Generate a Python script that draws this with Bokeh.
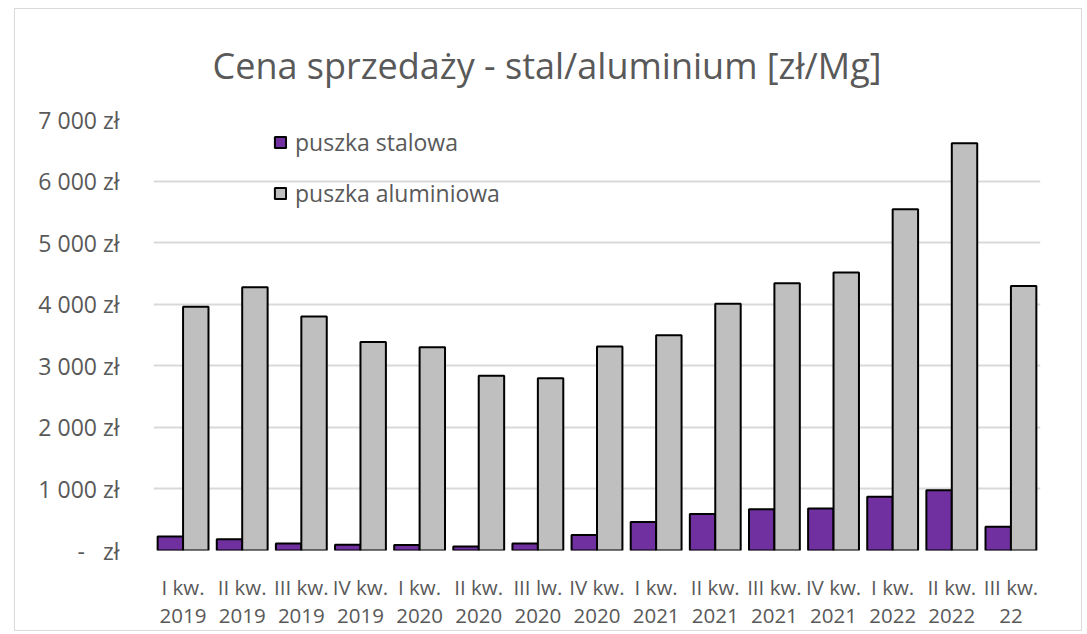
from bokeh.plotting import figure
from bokeh.models import ColumnDataSource, FixedTicker, Legend, LegendItem, FactorRange, Range1d
from bokeh.transform import dodge
from bokeh.embed import file_html
from bokeh.resources import INLINE

# ---- data ----
categories = ["I kw.\n2019", "II kw.\n2019", "III kw.\n2019", "IV kw.\n2019",
              "I kw.\n2020", "II kw.\n2020", "III lw.\n2020", "IV kw.\n2020",
              "I kw.\n2021", "II kw.\n2021", "III kw.\n2021", "IV kw.\n2021",
              "I kw.\n2022", "II kw.\n2022", "III kw.\n22"]
steel = [226, 184, 113, 92, 90, 65, 113, 251, 462, 592, 668, 684, 871, 979, 387]
aluminium = [3958, 4274, 3802, 3387, 3302, 2839, 2797, 3315, 3495, 4006, 4339,
             4516, 5544, 6613, 4297]
y_ticks = [0, 1000, 2000, 3000, 4000, 5000, 6000, 7000]
y_tick_labels = ["-\u00a0\u00a0\u00a0zł", "1 000 zł", "2 000 zł", "3 000 zł",
                 "4 000 zł", "5 000 zł", "6 000 zł", "7 000 zł"]
series_names = ["puszka stalowa", "puszka aluminiowa"]
title_text = "Cena sprzedaży - stal/aluminium [zł/Mg]"

FONT = "Open Sans"
TXT = "#595959"

src = ColumnDataSource(dict(cat=categories, steel=steel, alu=aluminium))

p = figure(
    x_range=FactorRange(factors=categories, range_padding=0),
    y_range=Range1d(0, 7000),
    width=1068, height=623,
    output_backend="svg", toolbar_location=None,
    min_border_left=138, min_border_right=43,
    min_border_top=107, min_border_bottom=82,
)
p.styles = {"border": "1px solid #d9d9d9", "margin-left": "14px", "margin-top": "8px"}
p.outline_line_color = None

p.title.text = title_text
p.title.align = "left"
p.title.offset = 59
p.title.standoff = 59
p.title.text_font = FONT
p.title.text_font_size = "36px"
p.title.text_font_style = "normal"
p.title.text_color = TXT

r1 = p.vbar(x=dodge("cat", -0.215, range=p.x_range), top="steel", width=0.43, source=src,
            fill_color="#7030A0", line_color="black", line_width=2)
r2 = p.vbar(x=dodge("cat", 0.215, range=p.x_range), top="alu", width=0.43, source=src,
            fill_color="#BFBFBF", line_color="black", line_width=2)

# axes
p.yaxis.ticker = FixedTicker(ticks=y_ticks)
p.yaxis.major_label_overrides = {t: l for t, l in zip(y_ticks, y_tick_labels)}
p.yaxis.axis_line_color = None
p.yaxis.major_tick_line_color = None
p.yaxis.minor_tick_line_color = None
p.yaxis.major_label_standoff = 28
p.yaxis.major_label_text_font = FONT
p.yaxis.major_label_text_font_size = "23px"
p.yaxis.major_label_text_color = TXT

p.xaxis.axis_line_color = None
p.xaxis.major_tick_line_color = None
p.xaxis.minor_tick_line_color = None
p.xaxis.major_label_standoff = 16
p.xaxis.major_label_text_font = FONT
p.xaxis.major_label_text_font_size = "20.5px"
p.xaxis.major_label_text_color = TXT
p.xaxis.major_label_text_line_height = 1.0

p.xgrid.grid_line_color = None
p.ygrid.grid_line_color = "#d9d9d9"
p.ygrid.grid_line_width = 2

legend = Legend(items=[LegendItem(label=series_names[0], renderers=[r1]),
                       LegendItem(label=series_names[1], renderers=[r2])],
                location=(120, 341), orientation="vertical",
                glyph_width=14, glyph_height=14, label_height=20,
                spacing=19, padding=5, label_standoff=8,
                label_text_font=FONT, label_text_font_size="23px",
                label_text_color=TXT, border_line_color=None,
                background_fill_alpha=0)
p.add_layout(legend)

open("out.html", "w").write(file_html(p, INLINE))
